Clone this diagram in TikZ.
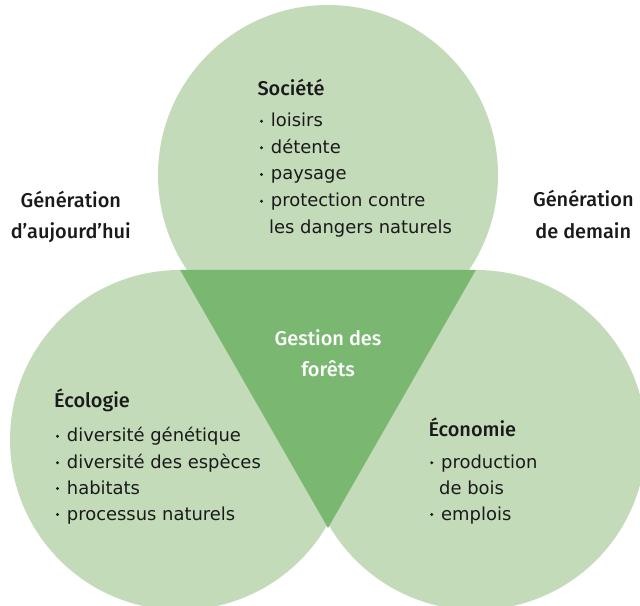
\documentclass[tikz,border=0pt]{standalone}
\usepackage{fontspec}
\setmainfont{DejaVu Sans}
\newfontfamily\headfont{Fira Sans Medium}
\definecolor{lightg}{HTML}{C3DBB9}
\definecolor{darkg}{HTML}{7AB872}
\definecolor{ink}{HTML}{1A1A1A}
\begin{document}
\begin{tikzpicture}[x=1bp,y=-1bp,
  blob/.style={circle, fill=lightg, minimum size=340bp, inner sep=0pt},
  head/.style={font=\fontsize{20}{22}\selectfont\headfont, text=ink, inner sep=0pt, anchor=base west},
  gen/.style={font=\fontsize{20}{22}\selectfont\headfont, text=ink, inner sep=0pt, anchor=base},
  core/.style={font=\fontsize{20}{22}\selectfont\headfont, text=white, inner sep=0pt, anchor=base},
  item/.style={font=\fontsize{18}{20}\selectfont, text=ink, inner sep=0pt, anchor=base west},
  dot/.style={circle, fill=ink, minimum size=3.3bp, inner sep=0pt}]
\useasboundingbox (0,0) rectangle (640,606);
\clip (0,0) rectangle (640,606);
% circles
\node[blob] (soc) at (328,175) {};
\node[blob] (eco) at (180,440) {};
\node[blob] (econ) at (476,440) {};
% central triangle
\coordinate (tip) at (328,528);
\fill[darkg] (eco.north) -- (econ.north) -- (tip) -- cycle;
% Société
\node[head] (socT) at (257.3,95.7) {Société};
\node[dot] (socB1) at (261.5,121.2) {};
\node[item] (soc1) at (270.7,126.7) {loisirs};
\node[dot] (socB2) at (261.5,147.8) {};
\node[item] (soc2) at (270.7,153.3) {détente};
\node[dot] (socB3) at (261.5,174.5) {};
\node[item] (soc3) at (270.7,180) {paysage};
\node[dot] (socB4) at (261.5,201.2) {};
\node[item] (soc4) at (270.7,206.7) {protection contre};
\node[item] (soc5) at (269,233.3) {les dangers naturels};
% Générations
\node[gen] (g1a) at (70.8,207.3) {Génération};
\node[gen] (g1b) at (70.8,238.3) {d’aujourd’hui};
\node[gen] (g2a) at (583.3,206.7) {Génération};
\node[gen] (g2b) at (583.3,238.3) {de demain};
% Gestion des forêts
\node[core] (c1) at (328,345) {Gestion des};
\node[core] (c2) at (328,376.7) {forêts};
% Écologie
\node[head] (ecoT) at (54,407.3) {Écologie};
\node[dot] (ecoB1) at (57.5,436.2) {};
\node[item] (eco1) at (66.7,441.7) {diversité génétique};
\node[dot] (ecoB2) at (57.5,462.8) {};
\node[item] (eco2) at (66.7,468.3) {diversité des espèces};
\node[dot] (ecoB3) at (57.5,488.5) {};
\node[item] (eco3) at (66.7,494) {habitats};
\node[dot] (ecoB4) at (57.5,514.5) {};
\node[item] (eco4) at (66.7,520) {processus naturels};
% Économie
\node[head] (econT) at (428.3,436) {Économie};
\node[dot] (econB1) at (431.7,462.8) {};
\node[item] (econ1) at (441,468.3) {production};
\node[item] (econ2) at (439,494) {de bois};
\node[dot] (econB3) at (431.7,514.5) {};
\node[item] (econ3) at (441,520) {emplois};
\end{tikzpicture}
\end{document}
